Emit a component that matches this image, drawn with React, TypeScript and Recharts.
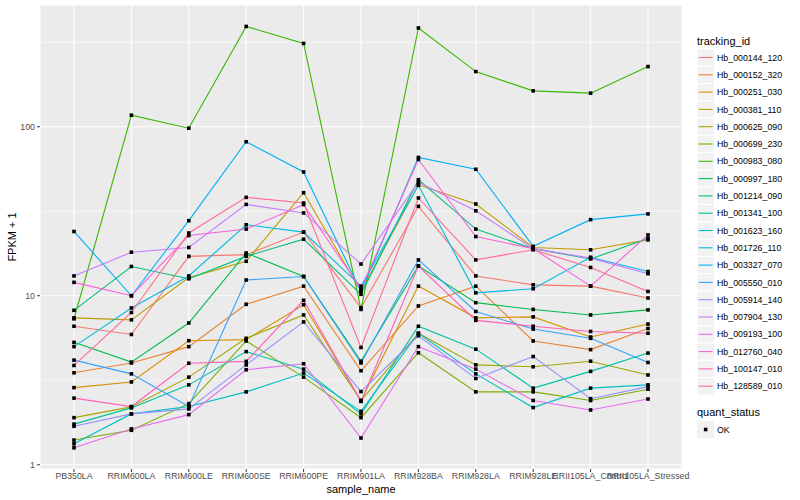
import React from 'react';
import { LineChart, Line, XAxis, YAxis, CartesianGrid } from 'recharts';

const FONT = '"Liberation Sans", Arial, Helvetica, sans-serif';

const samples = [
  'PB350LA', 'RRIM600LA', 'RRIM600LE', 'RRIM600SE', 'RRIM600PE', 'RRIM901LA',
  'RRIM928BA', 'RRIM928LA', 'RRIM928LE', 'RRII105LA_Control', 'RRII105LA_Stressed',
];

// FPKM + 1, one value per sample
const hb000144 = [6.6, 5.9, 17.1, 17.5, 23.8, 8.5, 33.8, 13.1, 11.6, 11.4, 9.7];
const hb000152 = [3.5, 4.0, 5.0, 8.9, 11.4, 3.6, 8.7, 11.4, 5.4, 4.8, 6.4];
const hb000251 = [2.86, 3.09, 5.42, 5.5, 8.85, 2.4, 11.4, 7.4, 7.5, 5.7, 6.8];
const hb000381 = [7.4, 7.2, 12.8, 16.0, 40.7, 10.6, 45.3, 34.9, 19.3, 18.7, 21.4];
const hb000625 = [1.9, 2.2, 3.3, 5.6, 7.7, 2.4, 6.0, 3.9, 3.8, 4.1, 3.4];
const hb000699 = [1.4, 1.6, 2.3, 5.4, 3.3, 1.9, 4.6, 2.7, 2.7, 2.4, 2.8];
const hb000983 = [7.3, 117, 98, 392, 311, 8.3, 384, 212, 163, 158, 227];
const hb000997 = [5.3, 4.05, 6.9, 17.9, 13.0, 4.1, 15.0, 9.1, 8.3, 7.7, 8.25];
const hb001214 = [8.2, 14.9, 12.6, 17.1, 21.6, 10.2, 48.6, 24.8, 19.0, 16.5, 21.8];
const hb001341 = [1.74, 2.17, 2.97, 4.67, 3.68, 2.0, 6.6, 4.83, 2.84, 3.57, 4.58];
const hb001623 = [1.33, 2.0, 2.21, 2.7, 3.49, 2.07, 6.0, 3.45, 2.18, 2.84, 2.97];
const hb001726 = [5.0, 8.47, 13.1, 26.3, 23.8, 11.4, 45, 10.4, 11.0, 16.9, 13.9];
const hb003327 = [24, 10, 27.8, 81.5, 54, 10.6, 65.8, 56, 19.6, 28.2, 30.5];
const hb005550 = [4.16, 3.45, 2.21, 12.4, 13.0, 4.0, 16.3, 8.07, 6.35, 5.6, 4.03];
const hb005914 = [1.69, 2.0, 2.14, 3.9, 7.0, 2.71, 5.8, 3.24, 4.37, 2.46, 2.9];
const hb007904 = [13.1, 18.1, 19.3, 34.7, 30.9, 15.4, 47, 31.8, 19.0, 16.7, 13.5];
const hb009193 = [1.26, 1.63, 1.98, 3.65, 3.96, 1.44, 5.0, 3.68, 2.4, 2.11, 2.45];
const hb012760 = [12.0, 10.0, 22.7, 24.8, 34.6, 11.0, 64, 22.4, 19.0, 11.4, 22.9];
const hb100147 = [2.48, 2.21, 3.99, 4.09, 9.4, 2.37, 15.0, 7.15, 6.6, 6.15, 6.0];
const hb128589 = [3.87, 7.96, 23.5, 38.2, 35.4, 4.94, 37.9, 16.3, 18.7, 14.7, 10.6];

const trackingIds = [
  'Hb_000144_120', 'Hb_000152_320', 'Hb_000251_030', 'Hb_000381_110', 'Hb_000625_090',
  'Hb_000699_230', 'Hb_000983_080', 'Hb_000997_180', 'Hb_001214_090', 'Hb_001341_100',
  'Hb_001623_160', 'Hb_001726_110', 'Hb_003327_070', 'Hb_005550_010', 'Hb_005914_140',
  'Hb_007904_130', 'Hb_009193_100', 'Hb_012760_040', 'Hb_100147_010', 'Hb_128589_010',
];

const seriesValues = [
  hb000144, hb000152, hb000251, hb000381, hb000625, hb000699, hb000983, hb000997, hb001214, hb001341,
  hb001623, hb001726, hb003327, hb005550, hb005914, hb007904, hb009193, hb012760, hb100147, hb128589,
];

const hueColors = [
  '#F8766D', '#EA8331', '#D89000', '#C09B00', '#A3A500', '#7CAE00', '#39B600', '#00BB4E', '#00BF7D', '#00C1A3',
  '#00BFC4', '#00BAE0', '#00B0F6', '#35A2FF', '#9590FF', '#C77CFF', '#E76BF3', '#FA62DB', '#FF62BC', '#FF6C91',
];

const yTicks = [1, 10, 100];
const yMinor = [3.1623, 31.623, 316.23];

const data = samples.map((s, i) => {
  const row: Record<string, string | number> = { sample_name: s };
  trackingIds.forEach((id, k) => {
    row[id] = seriesValues[k][i];
  });
  return row;
});

const squareDot = (props: any) => {
  const { cx, cy, index } = props;
  if (cx == null || cy == null) return <g key={index} />;
  return <rect key={index} x={cx - 1.8} y={cy - 1.8} width={3.6} height={3.6} fill="#000" />;
};

const legendTop = 57.5;
const legendStep = 17.3;

export default function App() {
  return (
    <div style={{ position: 'absolute', left: 0, top: 0, width: 800, height: 500, background: '#fff' }}>
      <LineChart
        width={800}
        height={500}
        data={data}
        margin={{ top: 5, right: 118, bottom: 0, left: 0 }}
      >
        <CartesianGrid fill="#EBEBEB" stroke="#FFFFFF" strokeWidth={1.1} />
        <CartesianGrid
          stroke="#FFFFFF"
          strokeWidth={0.55}
          vertical={false}
          horizontalValues={yMinor}
        />
        <XAxis
          dataKey="sample_name"
          interval={0}
          height={31}
          padding={{ left: 34, right: 34 }}
          axisLine={false}
          tickSize={3}
          tickMargin={1}
          tickLine={{ stroke: '#333333' }}
          tick={{ fill: '#4D4D4D', fontSize: 8.8, fontFamily: FONT }}
        />
        <YAxis
          scale="log"
          domain={[0.944, 525]}
          allowDataOverflow
          ticks={yTicks}
          width={40}
          axisLine={false}
          tickSize={3}
          tickMargin={2}
          tickLine={{ stroke: '#333333' }}
          tick={{ fill: '#4D4D4D', fontSize: 8.8, fontFamily: FONT }}
        />
        {trackingIds.map((id, k) => (
          <Line
            key={id}
            dataKey={id}
            type="linear"
            stroke={hueColors[k]}
            strokeWidth={1.1}
            dot={false}
            activeDot={false}
            isAnimationActive={false}
          />
        ))}
        {trackingIds.map((id) => (
          <Line
            key={id + '_pt'}
            dataKey={id}
            type="linear"
            stroke="none"
            dot={squareDot}
            activeDot={false}
            legendType="none"
            isAnimationActive={false}
          />
        ))}
      </LineChart>
      <svg
        width={800}
        height={500}
        style={{ position: 'absolute', left: 0, top: 0, pointerEvents: 'none', fontFamily: FONT }}
      >
        <text x={361} y={493} textAnchor="middle" fontSize={11} fill="#000">sample_name</text>
        <text x={0} y={0} transform="translate(16,237) rotate(-90)" textAnchor="middle" fontSize={11} fill="#000">
          FPKM + 1
        </text>
        <text x={697} y={44.5} fontSize={11} fill="#000">tracking_id</text>
        {trackingIds.map((id, k) => {
          const cy = legendTop + k * legendStep;
          return (
            <g key={id}>
              <rect x={697} y={cy - legendStep / 2} width={17.3} height={legendStep} fill="#F2F2F2" stroke="#FFFFFF" strokeWidth={1} />
              <line x1={698.7} x2={712.6} y1={cy} y2={cy} stroke={hueColors[k]} strokeWidth={1.1} />
              <text x={717} y={cy + 3.1} fontSize={8.8} fill="#000">{id}</text>
            </g>
          );
        })}
        <text x={697} y={416} fontSize={11} fill="#000">quant_status</text>
        <rect x={697} y={429.5 - legendStep / 2} width={17.3} height={legendStep} fill="#F2F2F2" />
        <rect x={703.85} y={427.7} width={3.6} height={3.6} fill="#000" />
        <text x={717} y={432.6} fontSize={8.8} fill="#000">OK</text>
      </svg>
    </div>
  );
}
